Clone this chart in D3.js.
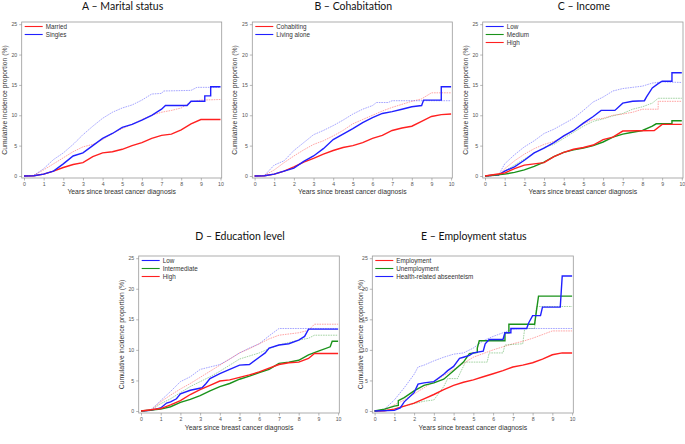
<!DOCTYPE html>
<html>
<head>
<meta charset="utf-8">
<script src="https://cdn.jsdelivr.net/npm/d3@7"></script>
<style>
  body { margin: 0; background: #fff; }
  svg { display: block; }
</style>
</head>
<body>
<div id="chart"></div>
<script>
// colours used by the SAS-style figure
var RED = "#ff2020", BLUE = "#2020ff", GREEN = "#1a921a";

// ---- A: marital status ----
var aMarried = [[0,0],[0.5,0.05],[1,0.3],[1.5,0.8],[2,1.4],[2.5,1.9],[3,2.2],[3.5,3.2],[4,3.8],[4.5,4.0],[5,4.4],[5.5,5.0],[6,5.5],[6.5,6.2],[7,6.7],[7.5,6.9],[8,7.6],[8.5,8.6],[9,9.3],[10,9.3]];
var aSingles = [[0,0],[0.5,0.05],[1,0.3],[1.5,0.8],[2,2.0],[2.5,3.3],[3,3.8],[3.5,5.0],[4,6.2],[4.5,7.0],[5,8.0],[5.5,8.5],[6,9.2],[6.5,10.0],[7,11.0],[7.2,11.6],[8.3,11.6],[8.5,12.3],[9.2,12.3],[9.2,13.2],[9.5,13.2],[9.5,14.7],[10,14.7]];
var aMarriedCi = [[0,0],[0.5,0.1],[1,1.0],[1.5,2.0],[2,3.0],[2.5,4.0],[3,4.8],[3.5,5.2],[4,6.0],[4.5,7.0],[5,7.8],[5.5,8.5],[6,9.3],[6.5,10.0],[7,10.5],[7.5,10.8],[8,11.2],[8.5,12.2],[9,12.5],[10,12.6]];
var aSinglesCi = [[0,0],[0.5,0.1],[1,1.2],[1.5,2.7],[2,3.8],[2.5,5.2],[3,6.8],[3.5,8.2],[4,9.5],[4.5,10.5],[5,11.2],[5.5,11.7],[6,12.5],[6.5,13.5],[7,13.6],[7.1,14.0],[8.5,14.1],[8.8,14.6],[10,14.6]];

// ---- B: cohabitation ----
var bCohab = [[0,0],[0.5,0.05],[1,0.3],[1.5,0.8],[2,1.5],[2.5,2.3],[3,2.9],[3.5,3.6],[4,4.2],[4.5,4.7],[5,5.0],[5.5,5.5],[6,6.2],[6.5,6.7],[7,7.5],[7.5,7.9],[8,8.2],[8.5,9.0],[9,9.8],[9.5,10.1],[10,10.2]];
var bAlone = [[0,0],[0.5,0.05],[1,0.3],[1.5,0.8],[2,1.3],[2.5,2.4],[3,3.3],[3.5,4.5],[4,6.0],[4.5,6.9],[5,7.8],[5.5,8.8],[6,9.6],[6.5,10.3],[7,10.6],[7.5,11.0],[8,11.4],[8.5,11.6],[8.6,12.5],[9.5,12.5],[9.5,14.7],[10,14.7]];
var bCohabCi = [[0,0],[0.5,0.1],[1,1.0],[1.5,2.2],[2,3.3],[2.5,4.3],[3,5.2],[3.5,5.8],[4,6.6],[4.5,7.5],[5,8.6],[5.5,9.3],[6,10.0],[6.5,10.7],[7,11.3],[7.5,11.8],[8,12.3],[8.5,12.7],[9,13.7],[10,13.7]];
var bAloneCi = [[0,0],[0.5,0.1],[1,1.8],[1.5,2.5],[2,4.2],[2.5,5.5],[3,6.8],[3.5,7.5],[4,8.3],[4.5,9.2],[5,10.2],[5.5,11.0],[6,11.6],[6.2,12.1],[6.8,12.1],[7,12.4],[10,12.4]];

// ---- C: income ----
var cLow = [[0,0],[0.7,0.2],[1,0.8],[1.5,1.5],[2,2.6],[2.5,3.8],[3,4.6],[3.5,5.5],[4,6.6],[4.5,7.5],[5,8.7],[5.5,9.8],[5.9,10.8],[6.6,10.8],[7,12.0],[7.5,12.3],[8.1,12.4],[8.2,13.0],[8.5,14.5],[8.8,15.2],[9,15.6],[9.5,15.6],[9.5,17.0],[10,17.0]];
var cMedium = [[0,0],[1,0.3],[1.5,0.6],[2,1.0],[2.5,1.6],[3,2.3],[3.5,3.2],[4,3.9],[4.5,4.3],[5,4.6],[5.5,5.0],[6,5.6],[6.5,6.4],[7,6.9],[7.5,7.2],[8,7.5],[8.5,8.2],[8.7,8.6],[9.5,8.6],[9.5,9.1],[10,9.1]];
var cHigh = [[0,0],[1,0.5],[1.5,1.2],[2,1.8],[2.5,2.0],[3,2.2],[3.5,3.2],[4,3.9],[4.5,4.4],[5,4.7],[5.5,5.1],[6,6.0],[6.5,6.4],[7,7.4],[8.6,7.5],[9,8.5],[10,8.5]];
var cLowCi = [[0,0],[0.7,0.2],[1,2.0],[1.5,3.5],[2,4.8],[2.5,5.8],[3,7.0],[3.5,7.7],[4,8.6],[4.5,9.5],[5,10.8],[5.5,12.2],[6,13.0],[6.5,14.0],[7,14.4],[7.5,14.6],[8,14.8],[8.5,15.3],[9,15.5],[10,15.4]];
var cMediumCi = [[0,0],[0.7,0.1],[1,0.8],[1.5,1.8],[2,2.8],[2.5,3.8],[3,4.7],[3.5,5.2],[4,6.2],[4.5,7.2],[5,8.2],[5.5,9.0],[6,9.4],[6.5,9.9],[7,10.3],[7.5,11.0],[8,11.4],[8.5,12.0],[8.8,12.8],[10,12.8]];
var cHighCi = [[0,0],[0.7,0.1],[1,1.2],[1.5,2.5],[2,3.6],[2.5,4.5],[3,5.2],[3.5,5.7],[4,6.5],[4.5,7.5],[5,8.6],[5.5,9.3],[6,9.5],[6.5,10.0],[7,10.2],[7.5,10.5],[8,11.0],[8.8,11.0],[8.8,12.3],[10,12.3]];

// ---- D: education level ----
var dLow = [[0,0],[0.5,0.1],[1,0.5],[1.3,1.3],[1.5,1.5],[1.8,2.0],[2,2.8],[2.5,3.4],[3.1,3.8],[3.3,4.5],[3.5,5.3],[4,6.1],[4.5,6.8],[5,7.5],[5.5,7.6],[6,8.8],[6.3,9.5],[6.5,10.3],[7,10.8],[7.5,11.0],[8,11.6],[8.3,12.2],[8.5,13.4],[10,13.4]];
var dInter = [[0,0],[1,0.3],[1.5,0.7],[2,1.4],[2.5,1.9],[3,2.5],[3.5,3.3],[4,4.0],[4.5,4.5],[5,5.2],[5.5,5.7],[6,6.3],[6.5,6.8],[7,7.8],[7.5,8.0],[8,8.3],[8.5,9.2],[9,9.8],[9.6,10.5],[9.7,11.4],[10,11.4]];
var dHigh = [[0,0],[1,0.4],[1.5,1.0],[2,1.7],[2.5,2.7],[3,3.5],[3.5,4.2],[4,4.9],[4.5,5.1],[5,5.5],[5.5,5.9],[6,6.4],[6.5,7.0],[7,7.6],[7.5,7.9],[8,8.0],[8.5,8.6],[8.8,9.4],[10,9.4]];
var dLowCi = [[0,0],[0.5,0.2],[1,1.7],[1.5,3.2],[2,4.8],[2.5,5.6],[3,6.8],[3.5,7.2],[4,7.6],[4.5,8.5],[5,9.5],[5.5,10.3],[6,11.0],[6.5,12.3],[7,13.5],[10,13.5]];
var dInterCi = [[0,0],[0.5,0.1],[1,1.2],[1.5,2.0],[2,3.0],[2.5,4.0],[3,4.8],[3.5,5.6],[4,6.5],[4.5,7.5],[5,8.5],[5.5,9.0],[6,9.5],[6.5,10.2],[7,10.8],[7.5,11.2],[8,11.6],[8.5,11.9],[8.8,12.4],[10,12.4]];
var dHighCi = [[0,0],[0.5,0.1],[1,1.5],[1.5,2.6],[2,3.6],[2.5,4.5],[3,5.5],[3.5,6.5],[4,7.5],[4.5,8.5],[5,9.5],[5.5,10.2],[6,11.0],[6.5,11.8],[7,12.4],[7.5,12.6],[8,12.8],[8.5,13.2],[8.8,14.2],[10,14.2]];

// ---- E: employment status ----
var eEmploy = [[0,0],[0.5,0.05],[1,0.3],[1.5,0.8],[2,1.3],[2.5,2.0],[3,2.7],[3.5,3.5],[4,4.2],[4.5,4.7],[5,5.1],[5.5,5.6],[6,6.1],[6.5,6.6],[7,7.2],[7.5,7.5],[8,7.9],[8.5,8.5],[9,9.2],[9.5,9.5],[10,9.5]];
var eUnemploy = [[0,0],[0.5,0.3],[1,0.8],[1.2,0.9],[1.2,1.7],[1.5,2.2],[2,3.3],[2.5,4.2],[3,4.6],[3.5,5.2],[4,6.6],[4.5,8.0],[4.8,9.4],[5.2,9.6],[5.2,10.3],[5.3,11.5],[6.6,11.5],[6.6,12.8],[6.8,12.8],[6.8,14.2],[8.1,14.2],[8.2,16.5],[8.3,18.8],[10,18.8]];
var eHealth = [[0,0],[1,0.1],[1.3,0.5],[1.5,1.5],[2,3.0],[2.2,4.4],[2.5,4.6],[3,4.8],[3.5,6.0],[3.7,6.6],[4,7.3],[4.3,8.6],[4.5,8.8],[4.8,9.1],[5,9.5],[5.5,9.8],[5.6,11.0],[5.8,11.7],[6.5,11.7],[6.6,12.8],[6.9,12.8],[6.9,13.5],[7.7,13.5],[7.8,14.4],[8,15.6],[8.4,15.6],[8.5,17.0],[9.4,17.0],[9.5,22.1],[10,22.1]];
var eEmployCi = [[0,0],[0.5,0.2],[1,1.0],[1.5,1.8],[2,2.8],[2.5,3.8],[3,4.8],[3.5,5.8],[4,6.8],[4.5,7.8],[5,8.8],[5.5,9.4],[6,10.0],[6.5,10.5],[7,11.0],[7.5,11.4],[8,11.9],[8.5,12.5],[9,13.1],[10,13.1]];
var eUnemployCi = [[0,0],[0.5,0.1],[1,0.3],[1.5,0.8],[2,1.2],[2.5,1.6],[3,1.8],[3.5,4.0],[3.7,5.3],[4.2,5.3],[4.3,6.0],[4.6,8.0],[5.7,8.0],[5.8,9.5],[6.5,9.5],[6.6,10.8],[7.5,11.0],[7.6,13.5],[8.1,13.5],[8.2,17.1],[10,17.1]];
var eHealthCi = [[0,0],[0.5,0.3],[1,1.8],[1.5,3.8],[2,6.0],[2.2,7.2],[2.5,7.5],[3,8.2],[3.5,8.8],[4,9.3],[4.5,9.5],[5,10.3],[5.5,11.5],[6,12.2],[6.5,12.8],[7,13.4],[7.5,13.5],[10,13.5]];

var yTicks = [0, 5, 10, 15, 20, 25];
var xTicks = [0, 1, 2, 3, 4, 5, 6, 7, 8, 9, 10];
var xLabel = "Years since breast cancer diagnosis";
var yLabel = "Cumulative incidence proportion (%)";

var panels = [
  { title: "A \u2013 Marital status", box: [21.7, 22, 221.7, 178], ylab: 5, xlabY: 194, titleY: 9.8,
    series: [{ name: "Married", color: RED, d: aMarried, ci: aMarriedCi },
             { name: "Singles", color: BLUE, d: aSingles, ci: aSinglesCi }] },
  { title: "B \u2013 Cohabitation", box: [252.3, 22, 452.3, 178], ylab: 234.5, xlabY: 194, titleY: 9.8,
    series: [{ name: "Cohabiting", color: RED, d: bCohab, ci: bCohabCi },
             { name: "Living alone", color: BLUE, d: bAlone, ci: bAloneCi }] },
  { title: "C \u2013 Income", box: [482.7, 22, 683, 178], ylab: 465.5, xlabY: 194, titleY: 9.8,
    series: [{ name: "Low", color: BLUE, d: cLow, ci: cLowCi },
             { name: "Medium", color: GREEN, d: cMedium, ci: cMediumCi },
             { name: "High", color: RED, d: cHigh, ci: cHighCi }] },
  { title: "D \u2013 Education level", box: [138.7, 256, 339.3, 413], ylab: 122, xlabY: 430, titleY: 239.5,
    series: [{ name: "Low", color: BLUE, d: dLow, ci: dLowCi },
             { name: "Intermediate", color: GREEN, d: dInter, ci: dInterCi },
             { name: "High", color: RED, d: dHigh, ci: dHighCi }] },
  { title: "E \u2013 Employment status", box: [372.3, 256, 573.3, 413], ylab: 360.5, xlabY: 430, titleY: 239.5,
    series: [{ name: "Employment", color: RED, d: eEmploy, ci: eEmployCi },
             { name: "Unemployment", color: GREEN, d: eUnemploy, ci: eUnemployCi },
             { name: "Health-related abseenteism", color: BLUE, d: eHealth, ci: eHealthCi }] }
];

var svg = d3.select("#chart").append("svg")
    .attr("width", 685)
    .attr("height", 444);

panels.forEach(function(p) {
    var L = p.box[0], T = p.box[1], R = p.box[2], B = p.box[3];
    var x = d3.scaleLinear().domain([0, 10]).range([L + 2.3, R - 1.2]);
    var y = d3.scaleLinear().domain([0, 25]).range([B - 2, T + 2.2]);

    var g = svg.append("g");

    // title
    g.append("text")
        .attr("x", (L + R) / 2 + 1)
        .attr("y", p.titleY)
        .attr("text-anchor", "middle")
        .attr("font-family", "Lato, 'Open Sans', sans-serif")
        .attr("font-size", 10.5)
        .attr("fill", "#111")
        .text(p.title);

    // plot frame
    g.append("rect")
        .attr("x", L).attr("y", T)
        .attr("width", R - L).attr("height", B - T)
        .attr("fill", "none")
        .attr("stroke", "#9a9a9a")
        .attr("stroke-width", 0.8);

    // axes
    var yAxis = d3.axisLeft(y).tickValues(yTicks).tickSize(2.5).tickPadding(2);
    var xAxis = d3.axisBottom(x).tickValues(xTicks).tickSize(2.5).tickPadding(2);
    var ya = g.append("g").attr("transform", "translate(" + L + ",0)").call(yAxis);
    var xa = g.append("g").attr("transform", "translate(0," + B + ")").call(xAxis);
    [ya, xa].forEach(function(a) {
        a.select(".domain").remove();
        a.selectAll("line").attr("stroke", "#8a8a8a").attr("stroke-width", 0.6);
        a.selectAll("text")
            .attr("font-family", "'Liberation Sans', Arial, sans-serif")
            .attr("font-size", 5.2)
            .attr("fill", "#555");
    });

    // axis labels
    g.append("text")
        .attr("x", (L + R) / 2)
        .attr("y", p.xlabY)
        .attr("text-anchor", "middle")
        .attr("font-family", "'Liberation Sans', Arial, sans-serif")
        .attr("font-size", 6.8)
        .attr("fill", "#333")
        .text(xLabel);
    g.append("text")
        .attr("transform", "translate(" + p.ylab + "," + ((T + B) / 2) + ") rotate(-90)")
        .attr("text-anchor", "middle")
        .attr("dy", "0.35em")
        .attr("font-family", "'Liberation Sans', Arial, sans-serif")
        .attr("font-size", 6.8)
        .attr("fill", "#333")
        .text(yLabel);

    var line = d3.line()
        .x(function(d) { return x(d[0]); })
        .y(function(d) { return y(d[1]); })
        .curve(d3.curveLinear);

    // dotted confidence-style curves first
    p.series.forEach(function(s) {
        g.append("path")
            .attr("d", line(s.ci))
            .attr("fill", "none")
            .attr("stroke", s.color)
            .attr("stroke-opacity", 0.45)
            .attr("stroke-width", 0.9)
            .attr("stroke-dasharray", "1.6,0.9");
    });
    p.series.forEach(function(s) {
        g.append("path")
            .attr("d", line(s.d))
            .attr("fill", "none")
            .attr("stroke", s.color)
            .attr("stroke-width", 1.4)
            .attr("stroke-linejoin", "miter");
    });

    // legend
    var leg = g.append("g").attr("transform", "translate(" + (L + 3) + "," + (T + 4.5) + ")");
    p.series.forEach(function(s, i) {
        leg.append("line")
            .attr("x1", 0).attr("x2", 18)
            .attr("y1", i * 8).attr("y2", i * 8)
            .attr("stroke", s.color)
            .attr("stroke-width", 1.1);
        leg.append("text")
            .attr("x", 21)
            .attr("y", i * 8)
            .attr("dy", "0.35em")
            .attr("font-family", "'Liberation Sans', Arial, sans-serif")
            .attr("font-size", 6.3)
            .attr("fill", "#333")
            .text(s.name);
    });
});
</script>
</body>
</html>
